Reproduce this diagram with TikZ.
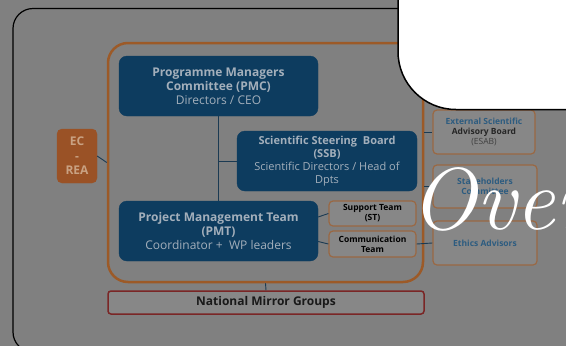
\documentclass[tikz,border=0pt]{standalone}
\usepackage{fontspec}
\newfontfamily\opensans{Open Sans}
\usetikzlibrary{positioning,shapes}

\definecolor{slidegray}{HTML}{808080}
\definecolor{boardblue}{HTML}{0D3C5F}
\definecolor{boardtext}{HTML}{A3AFBB}
\definecolor{frameorange}{HTML}{9C5A28}
\definecolor{ecorange}{HTML}{9A5226}
\definecolor{ectext}{HTML}{C9A283}
\definecolor{sidegray}{HTML}{878787}
\definecolor{sideedge}{HTML}{9A6843}
\definecolor{sideblue}{HTML}{2D5C80}
\definecolor{mirrorred}{HTML}{7A2626}
\definecolor{linkblue}{HTML}{1B3A52}

\begin{document}
\begin{tikzpicture}[x=1pt,y=-1pt]
        \tikzstyle{board}=[rectangle, rounded corners=8pt, fill=boardblue, draw=boardblue, inner sep=0pt, align=center, text=boardtext, minimum width=199pt, minimum height=60pt, font=\opensans\fontsize{12}{14}\selectfont]
        \tikzstyle{sidebox}=[rectangle, rounded corners=4pt, fill=sidegray, draw=sideedge, line width=1.2pt, inner sep=0pt, align=center, font=\opensans\bfseries\fontsize{8.5}{10}\selectfont]
        \tikzstyle{link}=[draw=linkblue, line width=0.9pt]
        % slide and dimmed frame
        \useasboundingbox[fill=slidegray] (0,0) rectangle (566,346);
        \draw[line width=1.2pt, rounded corners=20pt] (13,8.5) rectangle (620,352);
        % governance frame
        \node[rectangle, draw=frameorange, line width=2.5pt, rounded corners=20pt, minimum width=315pt, minimum height=239pt] (frame) at (265.5,162.5) {};
        \node[board] (PMC) at (218.5,86) {\textbf{Programme Managers}\\\textbf{Committee (PMC)}\\Directors / CEO};
        \node[board, minimum width=180pt, font=\opensans\fontsize{11}{13}\selectfont] (SSB) at (327,161) {\textbf{Scientific Steering\ \ Board}\\\textbf{(SSB)}\\Scientific Directors / Head of\\Dpts};
        \node[board] (PMT) at (218.5,231) {\textbf{Project Management Team}\\\textbf{(PMT)}\\Coordinator +\ \ WP leaders};
        \node[sidebox, minimum width=87pt, minimum height=25pt] (ST) at (372.5,213.5) {Support Team\\(ST)};
        \node[sidebox, minimum width=87pt, minimum height=26pt] (CT) at (372.5,244) {Communication\\Team};
        \node[rectangle, rounded corners=5pt, fill=ecorange, draw=ecorange, minimum width=40pt, minimum height=54pt, inner sep=0pt, align=center, text=ectext, font=\opensans\bfseries\fontsize{12}{14.5}\selectfont] (EC) at (77,156) {EC\\-\\REA};
        \node[rectangle, rounded corners=3pt, fill=sidegray, draw=mirrorred, line width=1.5pt, minimum width=316pt, minimum height=23pt, inner sep=0pt, text=black!90, font=\opensans\bfseries\fontsize{12}{14}\selectfont] (NMG) at (266,302.5) {National Mirror Groups};
        \node[sidebox, minimum width=102pt, minimum height=44pt] (ESAB) at (484,132) {\textcolor{sideblue}{External Scientific}\\\textcolor{black!85}{Advisory Board}\\\textcolor{black!75}{\mdseries (ESAB)}};
        \node[sidebox, minimum width=104pt, minimum height=43pt, text=sideblue] (SHC) at (485,186.5) {Stakeholders\\Committee};
        \node[sidebox, minimum width=104pt, minimum height=44pt, text=sideblue] (EA) at (485,243) {Ethics Advisors};
        % connectors
        \draw[link] (PMC) -- (PMT);
        \draw[link] (SSB.west) -- (SSB.west -| PMC.south);
        \draw[link] (EC.east) -- (frame.west);
        \draw[link] (frame.south) -- (NMG.north);
        \draw[link] (PMT.8) -- (ST.west);
        \draw[link] (PMT.-6) -- (CT.west);
        \draw[link] (ESAB.west -| frame.east) -- (ESAB.west);
        \draw[link] (SHC.west -| frame.east) -- (SHC.west);
        \draw[link] (CT.east) -- (EA.west);
        % pop-up card and title
        \draw[fill=white, line width=1.5pt, rounded corners=58pt] (398,-80) rectangle (640,109.5);
        \node[anchor=base west, inner sep=0pt, text=white, font=\itshape\fontsize{88}{88}\selectfont\addfontfeature{LetterSpace=-14}] (title) at (410,229) {Over};
\end{tikzpicture}
\end{document}
